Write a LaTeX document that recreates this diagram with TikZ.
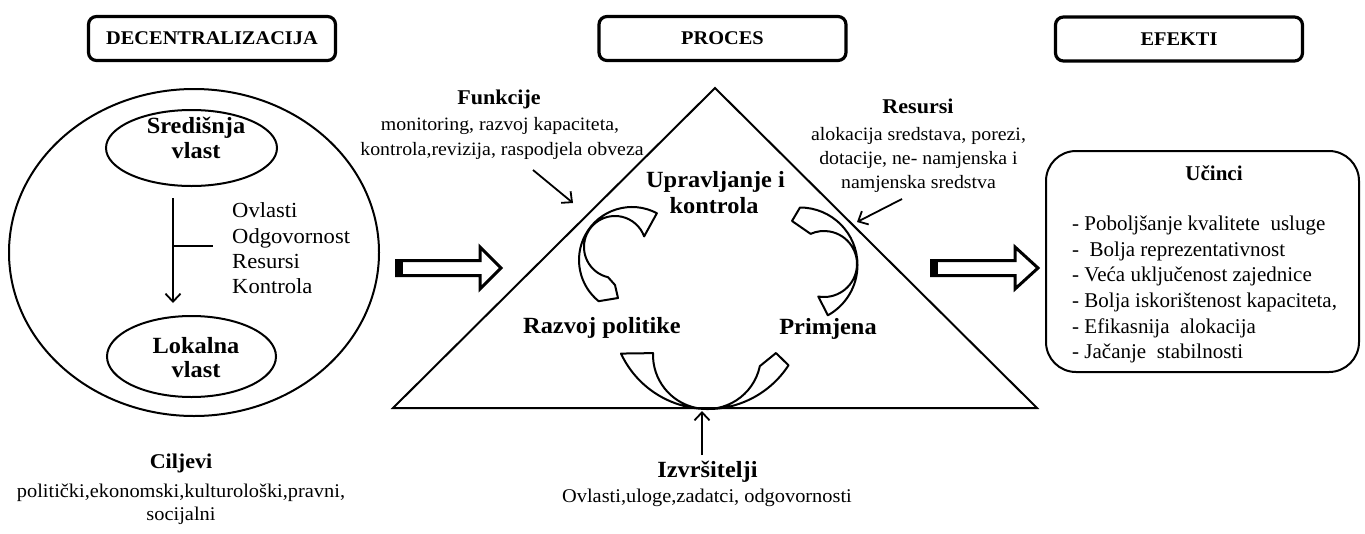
\documentclass[tikz,border=0pt]{standalone}
\usepackage{fontspec}
\setmainfont{Liberation Serif}
\newfontfamily\cam[FakeStretch=1.05]{Liberation Serif}
\usetikzlibrary{arrows.meta,shapes.geometric,calc}
\newcommand\fsz[2]{\fontsize{#1}{#2}\selectfont}
\begin{document}
\begin{tikzpicture}[x=1pt,y=1pt,yscale=-1,
  titlebox/.style={draw, line width=3.2pt, rounded corners=8pt, minimum width=247pt, minimum height=44pt, inner sep=0pt, font=\cam\bfseries\fsz{19.4}{20}},
  ell/.style={draw, ellipse, line width=2pt, inner sep=0pt},
  bl/.style={inner sep=0pt, anchor=base, font=\cam\bfseries\fsz{23.2}{23}},
  bm/.style={inner sep=0pt, anchor=base, font=\cam\bfseries\fsz{21}{21}},
  rg/.style={inner sep=0pt, anchor=base, font=\cam\fsz{21.5}{21.5}},
  sm/.style={inner sep=0pt, anchor=base, font=\cam\fsz{18.9}{18.9}},
  lst/.style={inner sep=0pt, anchor=base west, font=\fsz{21}{21}},
  arr/.style={line width=1.8pt, -{Straight Barb[length=8pt,width=15pt]}},
  band/.style={line width=2pt, line join=round},
  barr/.style={line width=3pt, line join=miter},
]
\useasboundingbox (0,0) rectangle (1365,533);

% titles
\node[titlebox] (dec) at (212,38.5) {DECENTRALIZACIJA};
\node[titlebox] (proc) at (722.5,38.5) {PROCES};
\node[titlebox] (ef) at (1179,39) {EFEKTI};

% left ellipse
\node[ell, minimum width=370pt, minimum height=327pt] (outer) at (194,252.5) {};
\node[ell, minimum width=171pt, minimum height=76pt] (sred) at (191.5,148) {};
\node[ell, minimum width=169pt, minimum height=81pt] (lok) at (191.5,356.5) {};
\node[bl] (sred1) at (196,133.5) {Središnja};
\node[bl] (sred2) at (196,158) {vlast};
\node[bl] (lok1) at (196,353) {Lokalna};
\node[bl] (lok2) at (196,377) {vlast};

\coordinate (va1) at (173,198);
\coordinate (va2) at (173,303);
\coordinate (tk1) at (173,246);
\coordinate (tk2) at (213,246);
\draw[arr] (va1) -- (va2);
\draw[line width=1.8pt] (tk1) -- (tk2);
\node[rg, anchor=base west] (t1) at (232,217) {Ovlasti};
\node[rg, anchor=base west] (t2) at (232,243) {Odgovornost};
\node[rg, anchor=base west] (t3) at (232,268) {Resursi};
\node[rg, anchor=base west] (t4) at (232,293) {Kontrola};

\node[bm] (cil) at (181,468) {Ciljevi};
\node[sm, font=\cam\fsz{19.4}{19.4}] (cil1) at (181,497) {politički,ekonomski,kulturološki,pravni,};
\node[sm, font=\cam\fsz{19.4}{19.4}] (cil2) at (181,520) {socijalni};

% block arrows
\begin{scope}[shift={(395,268)}]
\draw[barr] (1.5,-7.5) -- (85,-7.5) -- (85,-21) -- (106,0) -- (85,21) -- (85,7.5) -- (1.5,7.5) -- cycle;
\fill (0,-9) rectangle (8,9);
\end{scope}
\begin{scope}[shift={(930,268)}]
\draw[barr] (1.5,-7.5) -- (85,-7.5) -- (85,-21) -- (108,0) -- (85,21) -- (85,7.5) -- (1.5,7.5) -- cycle;
\fill (0,-9) rectangle (8,9);
\end{scope}

% triangle
\coordinate (tl) at (393,408);
\coordinate (ta) at (715,88);
\coordinate (tr) at (1037,408);
\draw[line width=2pt, line join=miter] (tl) -- (ta) -- (tr) -- cycle;

\node[bl] (up1) at (715.5,187) {Upravljanje i};
\node[bl] (up2) at (714,213) {kontrola};
\node[bl] (raz) at (602,333) {Razvoj politike};
\node[bl] (pri) at (828,334) {Primjena};

% bands
\draw[band] ($(632,260)+(298:53)$) arc[start angle=298, end angle=129, radius=53] -- (618,298) -- (615,285) -- ($(615,247)+(103:31)$) arc[start angle=103, end angle=340, radius=31] -- cycle;
\draw[band] ($(708,313)+(155:96)$) arc[start angle=155, end angle=33, radius=96] -- (776,353) -- (760,366) -- ($(707,355)+(12:54)$) arc[start angle=12, end angle=182, radius=54] -- cycle;
\draw[band] ($(800,265)+(-90:57.5)$) arc[start angle=-90, end angle=61, radius=57.5] -- ($(824,264)+(100:33)$) arc[start angle=100, end angle=-114, radius=33] -- (792,221) -- cycle;

% Funkcije
\node[bm] (fun) at (499,104) {Funkcije};
\node[sm] (fun1) at (500,130) {monitoring, razvoj kapaciteta,};
\node[sm] (fun2) at (502,155) {kontrola,revizija, raspodjela obveza};
\coordinate (fa1) at (533,170);
\coordinate (fa2) at (573,203);
\draw[arr] (fa1) -- (fa2);

% Resursi
\node[bm] (res) at (918,113) {Resursi};
\node[sm] (res1) at (918.5,140) {alokacija sredstava, porezi,};
\node[sm] (res2) at (918.5,164) {dotacije, ne- namjenska i};
\node[sm] (res3) at (918.5,188) {namjenska sredstva};
\coordinate (ra1) at (902,199);
\coordinate (ra2) at (857,222);
\draw[arr] (ra1) -- (ra2);

% Izvrsitelji
\coordinate (ia1) at (702,455);
\coordinate (ia2) at (702,411);
\draw[arr] (ia1) -- (ia2);
\node[bl] (izv) at (707.5,477) {Izvršitelji};
\node[sm, font=\cam\fsz{19.4}{19.4}] (izv1) at (707,502) {Ovlasti,uloge,zadatci, odgovornosti};

% Ucinci box
\node[draw, line width=2pt, rounded corners=30pt, minimum width=313pt, minimum height=221pt, inner sep=0pt] (uc) at (1202.5,261.5) {};
\node[inner sep=0pt, anchor=base, font=\bfseries\fsz{21}{21}] (uct) at (1214,180) {Učinci};
\node[lst] (u1) at (1072,230) {- Poboljšanje kvalitete~ usluge};
\node[lst] (u2) at (1072,256) {-~ Bolja reprezentativnost};
\node[lst] (u3) at (1072,281.5) {- Veća uključenost zajednice};
\node[lst] (u4) at (1072,307) {- Bolja iskorištenost kapaciteta,};
\node[lst] (u5) at (1072,333) {- Efikasnija~ alokacija};
\node[lst] (u6) at (1072,358.5) {- Jačanje~ stabilnosti};
\end{tikzpicture}
\end{document}
